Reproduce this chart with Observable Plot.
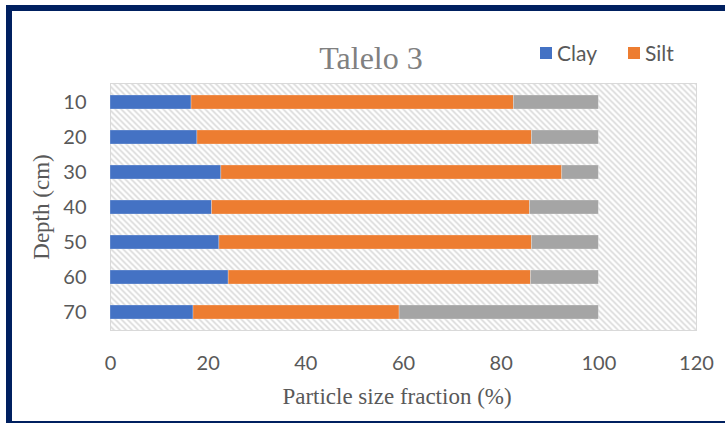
<!DOCTYPE html>
<html>
<head>
<meta charset="utf-8">
<script src="https://cdn.jsdelivr.net/npm/d3@7"></script>
<script src="https://cdn.jsdelivr.net/npm/@observablehq/plot@0.6"></script>
<style>
  html, body { margin: 0; padding: 0; background: #fff; overflow: hidden; width: 725px; height: 423px; }
  #wrap { position: relative; width: 725px; height: 423px; }
  #chart { position: absolute; left: 0; top: 0; }
  .frame { position: absolute; left: 6px; top: 5px; width: 740px; height: 410px; border-top: 6px solid #002060; border-left: 6px solid #002060; border-bottom: 6px solid #002060; pointer-events: none; }
  .title { position: absolute; left: 371px; top: 58px; transform: translate(-50%, -50%); font-family: "Liberation Serif", serif; font-size: 32px; color: #808080; white-space: nowrap; line-height: 1; }
  .xtitle { position: absolute; left: 397px; top: 396px; transform: translate(-50%, -50%); font-family: "Liberation Serif", serif; font-size: 23px; color: #595959; white-space: nowrap; line-height: 1; }
  .ytitle { position: absolute; left: 41px; top: 207px; transform: translate(-50%, -50%) rotate(-90deg); font-family: "Liberation Serif", serif; font-size: 23px; color: #595959; white-space: nowrap; line-height: 1; }
  .legend { position: absolute; top: 43px; left: 0; font-family: "Liberation Sans Narrow", Lato, sans-serif; font-size: 21px; color: #595959; line-height: 20px; }
  .legend .sw { width: 12px; height: 12px; display: inline-block; margin-right: 5px; }
  .legend .item { position: absolute; top: 0; display: flex; align-items: center; white-space: nowrap; }
</style>
</head>
<body>
<div id="wrap">
  <div id="chart"></div>
  <div class="title">Talelo 3</div>
  <div class="legend" id="legend"></div>
  <div class="xtitle">Particle size fraction (%)</div>
  <div class="ytitle">Depth (cm)</div>
  <div class="frame"></div>
</div>
<script>
// Data
const depths = ["10", "20", "30", "40", "50", "60", "70"];
const clay = [16.6, 17.8, 22.7, 20.8, 22.3, 24.2, 17.0];
const silt = [66.0, 68.5, 69.8, 65.1, 64.0, 61.9, 42.2];
const sand = [17.4, 13.7, 7.5, 14.1, 13.7, 13.9, 40.8];
const seriesNames = ["Clay", "Silt", "Sand"];
const seriesColors = ["#4472C4", "#ED7D31", "#A5A5A5"];
const legendNames = ["Clay", "Silt"];
const legendLeft = [540, 628];
const xTicks = [0, 20, 40, 60, 80, 100, 120];

const seriesValues = [clay, silt, sand];
const rows = [];
seriesNames.forEach((s, si) => {
  depths.forEach((d, i) => rows.push({ depth: d, series: s, value: seriesValues[si][i] }));
});

const tickFont = "'Liberation Sans Narrow', Lato, sans-serif";

const svg = Plot.plot({
  width: 725,
  height: 423,
  marginLeft: 110,
  marginRight: 29,
  marginTop: 83,
  marginBottom: 93,
  style: { fontFamily: tickFont, fontSize: "20px", background: "transparent", color: "#595959" },
  x: { domain: [0, 120] },
  y: { domain: depths, paddingInner: 0.6, paddingOuter: 0.3 },
  color: { domain: seriesNames, range: seriesColors },
  marks: [
    Plot.frame({ fill: "url(#hatch)", stroke: "#d9d9d9", strokeWidth: 1 }),
    Plot.barX(rows, Plot.stackX({ x: "value", y: "depth", fill: "series", order: null, stroke: "#ffffff", strokeOpacity: 0.35, strokeWidth: 0.75 })),
    Plot.axisX({ ticks: xTicks, tickSize: 0, tickPadding: 25, fontSize: 20, fill: "#595959", label: null }),
    Plot.axisY({ tickSize: 0, tickPadding: 24, fontSize: 20, fill: "#595959", label: null })
  ]
});

// hatch pattern for the plot area
const defs = d3.select(svg).insert("defs", ":first-child");
const pat = defs.append("pattern")
  .attr("id", "hatch")
  .attr("patternUnits", "userSpaceOnUse")
  .attr("width", 6)
  .attr("height", 6);
pat.append("rect").attr("width", 6).attr("height", 6).attr("fill", "#ffffff");
pat.append("path")
  .attr("d", "M-1,-1L7,7M-1,5L1,7M5,-1L7,1")
  .attr("stroke", "#d4d4d4")
  .attr("stroke-width", 1.5);

document.getElementById("chart").appendChild(svg);

// legend (only Clay and Silt are visible in the reference)
const legend = d3.select("#legend");
legendNames.forEach((name, i) => {
  const item = legend.append("div").attr("class", "item").style("left", legendLeft[i] + "px");
  item.append("span").attr("class", "sw").style("background", seriesColors[seriesNames.indexOf(name)]);
  item.append("span").text(name);
});
</script>
</body>
</html>
